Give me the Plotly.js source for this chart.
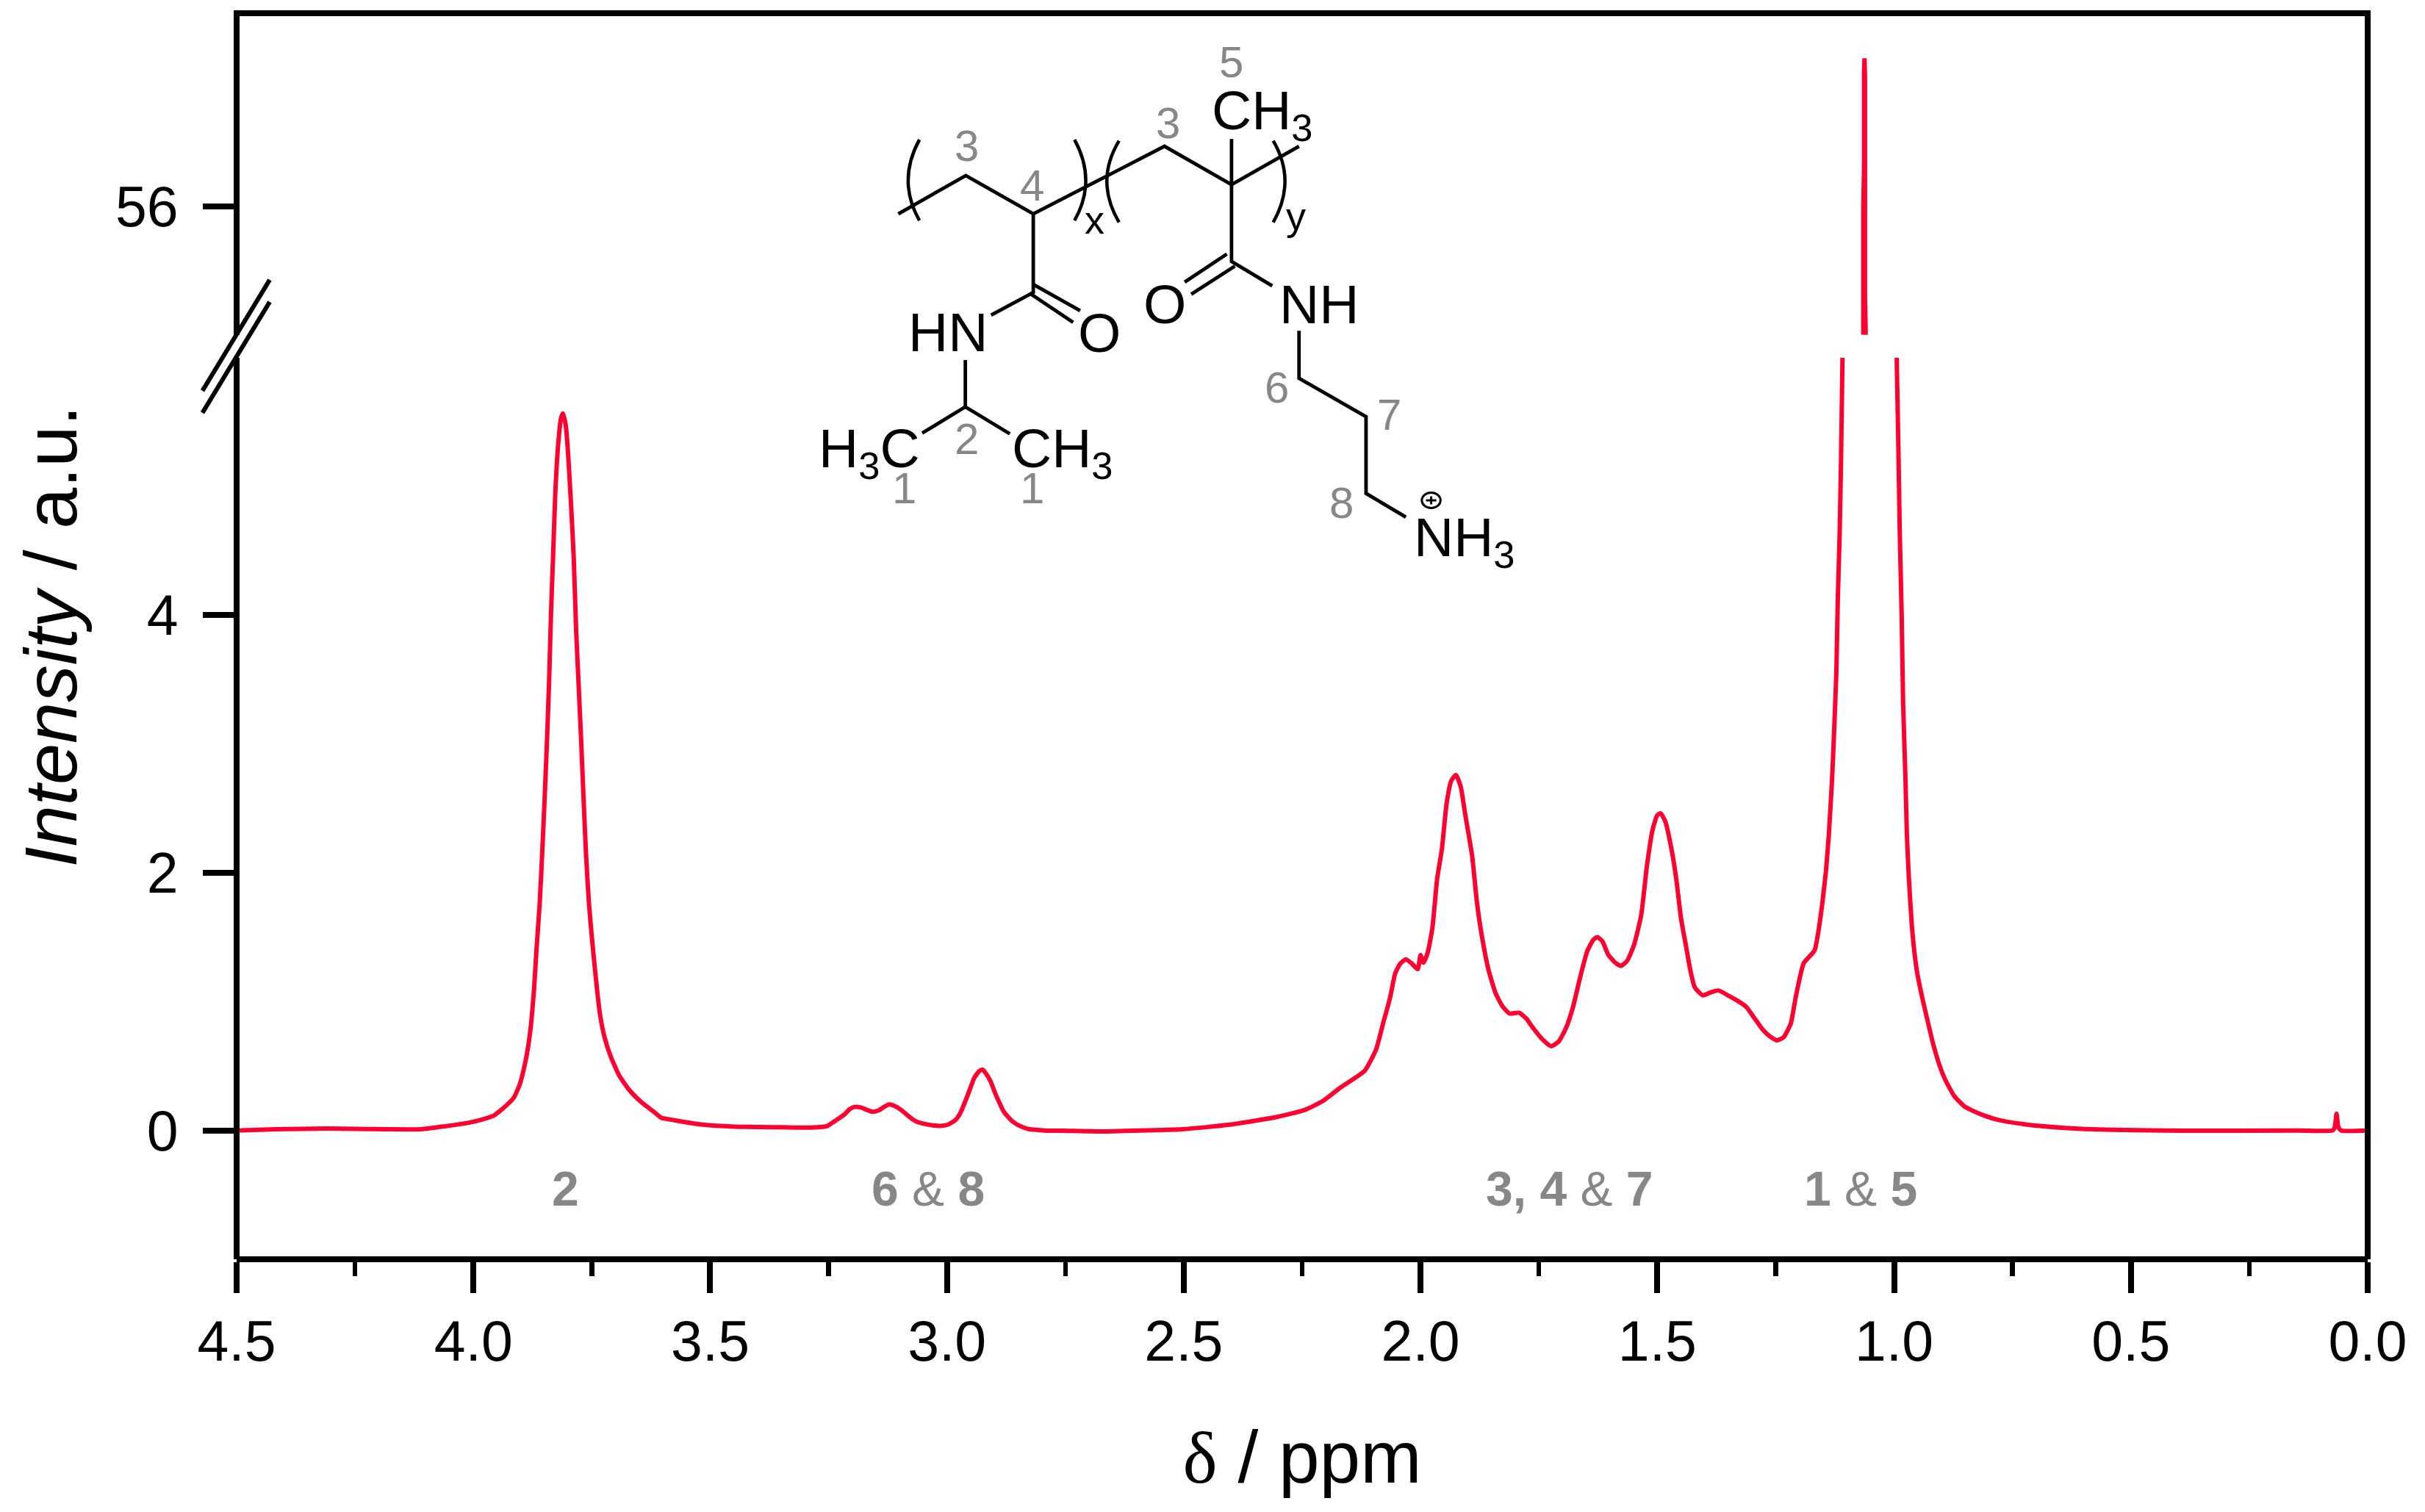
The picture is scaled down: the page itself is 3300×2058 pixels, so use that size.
<!DOCTYPE html>
<html><head><meta charset="utf-8">
<script src="https://cdn.plot.ly/plotly-3.0.1.min.js"></script>
<style>html,body{margin:0;padding:0;background:#fff}</style></head>
<body><div id="chart" style="width:3300px;height:2058px"></div>
<script>
// Spectrum: chemical shift (ppm) and intensity (a.u.)
const shiftLower = [4.5,4.416,4.31,4.11,4.06,4.008,3.982,3.956,3.93,3.914,3.902,3.891,3.883,3.878,3.872,3.867,3.86,3.855,3.85,3.845,3.84,3.836,3.832,3.827,3.821,3.815,3.811,3.805,3.8,3.793,3.788,3.783,3.777,3.772,3.767,3.762,3.756,3.749,3.741,3.733,3.723,3.71,3.692,3.671,3.646,3.62,3.604,3.576,3.516,3.449,3.35,3.294,3.254,3.234,3.216,3.206,3.195,3.182,3.169,3.157,3.144,3.133,3.122,3.11,3.097,3.081,3.066,3.05,3.03,3.014,2.999,2.983,2.973,2.963,2.952,2.942,2.931,2.925,2.919,2.908,2.9,2.89,2.88,2.864,2.849,2.828,2.808,2.787,2.756,2.68,2.502,2.403,2.303,2.244,2.2075,2.168,2.118,2.094,2.079,2.064,2.054,2.044,2.031,2.019,2.006,2.0,1.994,1.985,1.975,1.965,1.955,1.945,1.935,1.925,1.915,1.906,1.891,1.881,1.871,1.856,1.841,1.826,1.812,1.792,1.777,1.762,1.742,1.724,1.708,1.693,1.678,1.663,1.648,1.635,1.627,1.616,1.604,1.589,1.577,1.564,1.549,1.534,1.522,1.51,1.5,1.493,1.483,1.47,1.46,1.45,1.44,1.43,1.421,1.404,1.386,1.371,1.351,1.332,1.312,1.297,1.277,1.262,1.247,1.233,1.218,1.208,1.191,1.168,1.157,1.15,1.144,1.138,1.131,1.126,1.122,1.119,1.115,1.112,1.109,null,0.9945,0.991,0.988,0.984,0.981,0.976,0.973,0.969,0.963,0.957,0.951,0.94,0.93,0.917,0.904,0.891,0.873,0.852,0.838,0.811,0.778,0.719,0.64,0.541,0.392,0.145,0.075,0.0698,0.0658,0.0618,0.056,0];
const intensityLower = [0,0.01,0.015,0.01,0.033,0.062,0.085,0.118,0.196,0.259,0.359,0.519,0.686,0.834,1.094,1.391,1.762,2.133,2.542,2.987,3.507,4.027,4.435,4.955,5.326,5.53,5.567,5.474,5.252,4.806,4.435,3.878,3.396,2.987,2.542,2.133,1.762,1.465,1.168,0.909,0.723,0.574,0.426,0.315,0.222,0.148,0.1,0.08,0.045,0.03,0.025,0.022,0.033,0.08,0.126,0.164,0.183,0.179,0.16,0.145,0.156,0.183,0.202,0.19,0.16,0.11,0.072,0.053,0.04,0.036,0.044,0.078,0.126,0.211,0.316,0.411,0.464,0.472,0.449,0.382,0.306,0.221,0.145,0.078,0.04,0.011,0.004,-0.002,-0.002,-0.007,0.01,0.045,0.105,0.16,0.226,0.336,0.463,0.628,0.832,1.036,1.214,1.29,1.329,1.298,1.252,1.362,1.303,1.38,1.571,1.953,2.182,2.538,2.716,2.76,2.666,2.462,2.131,1.774,1.52,1.24,1.061,0.959,0.908,0.914,0.87,0.794,0.705,0.654,0.692,0.794,0.959,1.189,1.392,1.481,1.502,1.469,1.367,1.303,1.278,1.316,1.443,1.672,2.054,2.335,2.449,2.462,2.398,2.182,1.953,1.647,1.443,1.24,1.112,1.049,1.074,1.087,1.049,1.01,0.959,0.883,0.781,0.73,0.7,0.725,0.832,1.03,1.298,1.398,1.615,1.814,2.012,2.29,2.726,3.162,3.558,4.113,4.629,5.224,6,null,6,5.303,4.629,3.994,3.32,2.726,2.29,1.972,1.615,1.378,1.219,1.021,0.862,0.664,0.505,0.386,0.267,0.188,0.16,0.117,0.08,0.045,0.02,0.005,-0.002,0,0,0.02,0.13,0.025,0,0];
const shiftUpper = [1.065,1.065,1.0635,1.0635,1.0625,1.0615,1.0615,1.06];
const intensityUpper = [55,56,56.3,57.05,57.15,57,55.3,55];
const xTicks = [4.5,4,3.5,3,2.5,2,1.5,1,0.5,0];
const xTickLabels = ['4.5','4.0','3.5','3.0','2.5','2.0','1.5','1.0','0.5','0.0'];
const peakLabels = ['<b>2</b>','<b>6</b> &amp; <b>8</b>','<b>3, 4</b> &amp; <b>7</b>','<b>1</b> &amp; <b>5</b>'];
const peakLabelShift = [3.806,3.04,1.685,1.07];

const RED='#ff0030', GREY='#878787', FONT='"Liberation Sans", Arial, sans-serif';
const L=322,R=3222,T=18,B=1714.5, LW=8;
const px2x=p=>(p-L)/(R-L), px2y=p=>(B-p)/(B-T);
// structure sketch position
const zx=v=>px2x(1100+v/1.568), zy=v=>px2y(30+v/2.01);

const bonds=[[[192,525],[336,420],[480,525],[760,340],[903,445],[1047,340]],[[903,445],[903,320]],[[480,525],[480,740],[390,802]],[[480,718],[580,790]],[[472,742],[565,822]],[[335,925],[335,1053]],[[243,1125],[335,1053],[430,1127]],[[903,445],[903,655],[990,722]],[[893,635],[803,712]],[[910,668],[817,745]],[[1047,845],[1047,975],[1190,1080],[1190,1290],[1275,1355]]];
const parens=[[237,322,213,435,237,543],[568,322,592,435,568,543],[663,325,637,435,663,548],[992,325,1017,435,992,548]];
const atoms=[['CH<sub>3</sub>',859,252],['HN',212,848],['O',574,850],['O',714,772],['NH',1003,772],['H<sub>3</sub>C',21,1177],['CH<sub>3</sub>',433,1177],['NH<sub>3</sub>',1291,1420]];
const numbers=[['3',338,338],['4',477,448],['3',767,277],['5',903,110],['6',1000,1000],['7',1240,1075],['8',1138,1315],['2',338,1142],['1',205,1275],['1',477,1275]];
const repeatLabels=[['x',610,540],['y',1040,530]];

const shapes=[];
const pline=(pts,w)=>({type:'path',xref:'paper',yref:'paper',line:{color:'#000',width:w},layer:'above',path:pts.map((p,i)=>(i?'L':'M')+p[0]+','+p[1]).join(' ')});
bonds.forEach(b=>shapes.push(pline(b.map(p=>[zx(p[0]),zy(p[1])]),4.8)));
parens.forEach(p=>shapes.push({type:'path',xref:'paper',yref:'paper',line:{color:'#000',width:4.5},path:`M${zx(p[0])},${zy(p[1])} Q${zx(2*p[2]-(p[0]+p[4])/2)},${zy(p[3])} ${zx(p[4])},${zy(p[5])}`}));
// positive charge mark
shapes.push({type:'circle',xref:'paper',yref:'paper',line:{color:'#000',width:3},x0:zx(1309),x1:zx(1349),y0:zy(1288),y1:zy(1330)});
shapes.push(pline([[zx(1318),zy(1309)],[zx(1340),zy(1309)]],3));
shapes.push(pline([[zx(1329),zy(1298)],[zx(1329),zy(1320)]],3));
// frame: top and right edges, axis-break strokes
shapes.push(pline([[-LW/2/(R-L),1],[1+LW/2/(R-L),1]],LW));
shapes.push(pline([[1,1],[1,0]],LW));
shapes.push(pline([[px2x(367),px2y(381)],[px2x(275.5),px2y(532)]],6));
shapes.push(pline([[px2x(367),px2y(411)],[px2x(275.5),px2y(562)]],6));

const annotations=[];
peakLabels.forEach((t,i)=>annotations.push({text:t,x:peakLabelShift[i],y:-0.45,xref:'x',yref:'y',showarrow:false,xanchor:'center',yanchor:'middle',font:{family:FONT,size:66,color:GREY}}));
atoms.forEach(a=>annotations.push({text:a[0],x:zx(a[1]),y:zy(a[2]),xref:'paper',yref:'paper',showarrow:false,xanchor:'left',yanchor:'middle',font:{family:FONT,size:75,color:'#000'},borderpad:0}));
numbers.forEach(a=>annotations.push({text:a[0],x:zx(a[1]),y:zy(a[2]),xref:'paper',yref:'paper',showarrow:false,xanchor:'center',yanchor:'middle',font:{family:FONT,size:60,color:GREY},borderpad:0}));
repeatLabels.forEach(a=>annotations.push({text:a[0],x:zx(a[1]),y:zy(a[2]),xref:'paper',yref:'paper',showarrow:false,xanchor:'center',yanchor:'middle',font:{family:FONT,size:54,color:'#000'},borderpad:0}));

const lineLower={color:RED,width:6,simplify:false,shape:'spline',smoothing:0.5};
const lineUpper={color:RED,width:6,simplify:false};
const traces=[
 {x:shiftLower,y:intensityLower,xaxis:'x',yaxis:'y',mode:'lines',line:lineLower,connectgaps:false,hoverinfo:'skip'},
 {x:shiftUpper,y:intensityUpper,xaxis:'x',yaxis:'y2',mode:'lines',line:lineUpper,hoverinfo:'skip'},
 {x:[null],y:[null],xaxis:'x',yaxis:'y3',mode:'lines',hoverinfo:'skip'}
];
const tickFont={family:FONT,size:77,color:'#000'};
const yCommon={showgrid:false,zeroline:false,showline:true,linecolor:'#000',linewidth:LW,ticks:'outside',ticklen:42,tickwidth:LW,tickcolor:'#000',tickfont:tickFont,anchor:'free',position:0,ticklabelstandoff:18};
const layout={
 width:3300,height:2058,showlegend:false,paper_bgcolor:'#fff',plot_bgcolor:'rgba(0,0,0,0)',
 margin:{l:L,r:3300-R,t:T,b:2058-B,autoexpand:false},
 font:{family:FONT,color:'#000'},
 xaxis:{range:[4.5,0],anchor:'free',position:0,showgrid:false,zeroline:false,showline:true,linecolor:'#000',linewidth:LW,tickmode:'array',tickvals:xTicks,ticktext:xTickLabels,ticks:'outside',ticklen:42,tickwidth:LW,tickcolor:'#000',tickfont:tickFont,ticklabelstandoff:0,
  minor:{dtick:0.25,tick0:0,ticks:'outside',ticklen:19,tickwidth:6.5,tickcolor:'#000',showgrid:false},
  title:{text:'<span style="font-family:\'Liberation Serif\'">δ</span> / ppm',font:{family:FONT,size:100,color:'#000'},standoff:80}},
 yaxis:Object.assign({},yCommon,{domain:[0,(B-487)/(B-T)],range:[-1,6],tickvals:[0,2,4],ticktext:['0','2','4'],tickmode:'array'}),
 yaxis2:Object.assign({},yCommon,{domain:[(B-456)/(B-T),1],range:[55,57.5],tickvals:[56],ticktext:['56'],tickmode:'array'}),
 yaxis3:{domain:[0,1],range:[0,1],anchor:'x',showline:false,showgrid:false,zeroline:false,showticklabels:false,ticks:'',
  title:{text:'<i>Intensity</i> / a.u.',font:{family:FONT,size:101,color:'#000'},standoff:182}},
 shapes,annotations
};
Plotly.newPlot('chart',traces,layout,{staticPlot:true,displayModeBar:false});
</script></body></html>
